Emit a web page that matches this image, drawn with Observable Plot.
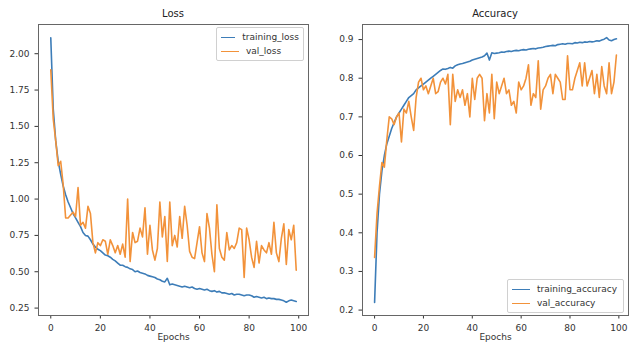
<!DOCTYPE html>
<html><head><meta charset="utf-8">
<script src="https://cdn.jsdelivr.net/npm/d3@7"></script>
<script src="https://cdn.jsdelivr.net/npm/@observablehq/plot@0.6"></script>
<style>
body{margin:0;background:#fff;font-family:"DejaVu Sans",sans-serif;}
#wrap{position:relative;width:632px;height:342px;overflow:hidden;background:#fff}
.panel{position:absolute;top:0}
.title{position:absolute;font-size:10px;color:#222;text-align:center;top:8px}
.legend{position:absolute;box-sizing:border-box;border:1px solid #d0d0d0;border-radius:2px;background:#fff;font-size:9px;color:#333;padding:2px 4px}
.legend .row{display:flex;align-items:center;height:14px}
.legend .sw{display:inline-block;width:18px;height:0;border-top:1.7px solid;margin-right:7px}
</style></head><body><div id="wrap"></div>
<script>
const epochs = d3.range(100);
const trainingLoss = [2.11,1.62,1.40,1.26,1.17,1.09,1.03,0.98,0.94,0.90,
0.87,0.84,0.81,0.77,0.75,0.745,0.72,0.69,0.67,0.655,
0.645,0.63,0.615,0.61,0.60,0.585,0.575,0.56,0.545,0.545,
0.535,0.53,0.52,0.515,0.50,0.505,0.495,0.49,0.485,0.475,
0.47,0.465,0.46,0.45,0.445,0.435,0.43,0.455,0.41,0.415,
0.41,0.405,0.40,0.395,0.40,0.395,0.39,0.395,0.385,0.38,
0.385,0.38,0.375,0.38,0.37,0.365,0.37,0.36,0.365,0.355,
0.355,0.35,0.345,0.35,0.34,0.345,0.345,0.34,0.335,0.34,
0.34,0.335,0.325,0.33,0.325,0.32,0.325,0.315,0.32,0.315,
0.315,0.31,0.31,0.305,0.30,0.29,0.30,0.305,0.30,0.295];
const valLoss = [1.89,1.55,1.40,1.23,1.26,1.10,0.87,0.87,0.89,0.91,
0.88,1.08,0.82,0.84,0.80,0.95,0.90,0.70,0.63,0.70,
0.68,0.72,0.71,0.62,0.72,0.68,0.63,0.68,0.62,0.69,
0.60,1.00,0.57,0.77,0.70,0.71,0.80,0.74,0.94,0.62,
0.82,0.65,0.58,0.66,0.98,0.74,0.88,0.57,0.98,0.68,
0.75,0.67,0.88,0.73,0.95,0.82,0.64,0.60,0.59,0.70,
0.81,0.63,0.57,0.90,0.80,0.62,0.50,0.96,0.66,0.60,
0.58,0.77,0.65,0.68,0.66,0.70,0.80,0.79,0.46,0.80,
0.72,0.60,0.53,0.71,0.56,0.68,0.65,0.63,0.70,0.62,
0.84,0.63,0.57,0.73,0.83,0.55,0.79,0.72,0.82,0.51];
const trainingAcc = [0.22,0.40,0.50,0.56,0.60,0.63,0.65,0.67,0.685,0.70,
0.71,0.72,0.73,0.74,0.75,0.755,0.76,0.77,0.775,0.78,
0.785,0.79,0.795,0.80,0.805,0.81,0.815,0.82,0.824,0.823,
0.825,0.828,0.826,0.832,0.835,0.837,0.838,0.84,0.842,0.844,
0.847,0.849,0.851,0.853,0.855,0.858,0.865,0.847,0.866,0.864,
0.865,0.866,0.868,0.867,0.869,0.870,0.869,0.871,0.872,0.871,
0.873,0.874,0.873,0.875,0.876,0.877,0.876,0.878,0.879,0.880,
0.882,0.883,0.884,0.885,0.884,0.887,0.888,0.889,0.888,0.890,
0.890,0.889,0.892,0.891,0.893,0.892,0.894,0.893,0.895,0.894,
0.895,0.897,0.896,0.899,0.901,0.905,0.899,0.897,0.900,0.902];
const valAcc = [0.336,0.45,0.52,0.582,0.57,0.64,0.70,0.695,0.68,0.70,
0.71,0.635,0.72,0.71,0.74,0.70,0.665,0.75,0.79,0.80,
0.77,0.78,0.76,0.78,0.80,0.76,0.765,0.79,0.80,0.785,
0.81,0.68,0.81,0.74,0.77,0.75,0.77,0.73,0.76,0.70,
0.80,0.745,0.80,0.81,0.80,0.69,0.76,0.71,0.81,0.695,
0.79,0.76,0.78,0.80,0.76,0.77,0.73,0.74,0.71,0.79,
0.77,0.78,0.80,0.835,0.73,0.76,0.75,0.845,0.72,0.77,
0.78,0.80,0.81,0.76,0.81,0.80,0.79,0.745,0.745,0.858,
0.77,0.77,0.80,0.82,0.84,0.78,0.84,0.78,0.80,0.82,
0.76,0.81,0.75,0.83,0.78,0.76,0.84,0.76,0.79,0.86];
const xTicks = [0,20,40,60,80,100];
const lossTicks = [0.25,0.50,0.75,1.00,1.25,1.50,1.75,2.00];
const accTicks = [0.2,0.3,0.4,0.5,0.6,0.7,0.8,0.9];

const BLUE = "#3d7db8", ORANGE = "#f2923a";
const wrap = document.getElementById("wrap");

function panel(opts) {
  const rows = epochs.map((e, i) => ({e, a: opts.a[i], b: opts.b[i]}));
  const svg = Plot.plot({
    width: 316, height: 342,
    marginLeft: opts.ml, marginRight: opts.mr, marginTop: 24, marginBottom: 27,
    style: {fontSize: "9px", fontFamily: "DejaVu Sans, sans-serif", color: "#333", background: "#fff"},
    x: {domain: [-4.95, 103.95], ticks: xTicks, tickSize: 3.5, label: "Epochs", labelAnchor: "center", labelArrow: "none", labelOffset: 24},
    y: {domain: opts.yd, ticks: opts.yt, tickFormat: opts.fmt, tickSize: 3.5, label: null},
    marks: [
      Plot.frame({stroke: "#666"}),
      Plot.line(rows, {x: "e", y: "a", stroke: BLUE, strokeWidth: 1.6}),
      Plot.line(rows, {x: "e", y: "b", stroke: ORANGE, strokeWidth: 1.6})
    ]
  });
  const p = document.createElement("div");
  p.className = "panel"; p.style.left = opts.left + "px";
  p.appendChild(svg);
  wrap.appendChild(p);
  const t = document.createElement("div");
  t.className = "title"; t.textContent = opts.title;
  t.style.left = (opts.left + opts.ml) + "px"; t.style.width = (316 - opts.ml - opts.mr) + "px";
  wrap.appendChild(t);
  const lg = document.createElement("div");
  lg.className = "legend";
  Object.assign(lg.style, opts.lg);
  lg.innerHTML = `<div class="row"><span class="sw" style="border-color:${BLUE}"></span>${opts.names[0]}</div>` +
                 `<div class="row"><span class="sw" style="border-color:${ORANGE}"></span>${opts.names[1]}</div>`;
  wrap.appendChild(lg);
}

panel({left: 0, ml: 38, mr: 8, a: trainingLoss, b: valLoss, yd: [0.199, 2.201], yt: lossTicks,
  fmt: d3.format(".2f"), title: "Loss", names: ["training_loss", "val_loss"],
  lg: {left: "216px", top: "27px", width: "88px"}});
panel({left: 316, ml: 46, mr: 4, a: trainingAcc, b: valAcc, yd: [0.186, 0.939], yt: accTicks,
  fmt: d3.format(".1f"), title: "Accuracy", names: ["training_accuracy", "val_accuracy"],
  lg: {left: "507px", top: "279px", width: "117px"}});
</script></body></html>
